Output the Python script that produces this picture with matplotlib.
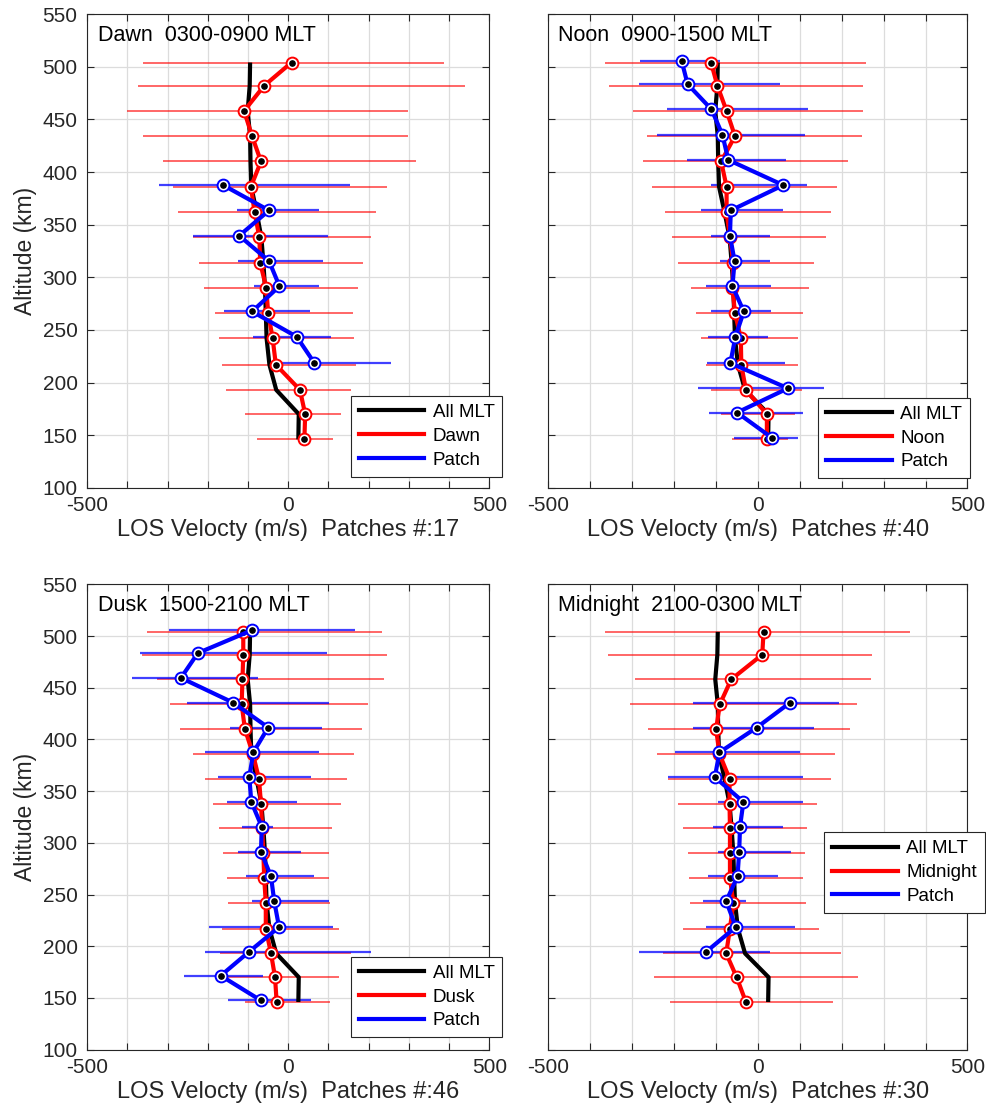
import matplotlib
matplotlib.use('Agg')
import matplotlib.pyplot as plt
from matplotlib.lines import Line2D
from matplotlib.ticker import FixedLocator

plt.rcParams['font.family'] = ['Liberation Sans', 'DejaVu Sans']

# ---------------- data ----------------
alt = [146, 170, 193, 217, 242, 266, 290, 314, 338, 362, 386, 410, 434, 458, 482, 504]
all_mlt = [25, 26, -30, -47, -54, -56, -58, -62, -67, -79, -92, -94, -95, -101, -96, -95]

# Dawn
dawn_v = [40, 42, 29, -31, -39, -50, -55, -70, -72, -84, -93, -68, -90, -110, -60, 8]
dawn_lo = [-79, -108, -156, -164, -173, -182, -209, -221, -236, -274, -288, -312, -362, -402, -373, -361]
dawn_hi = [110, 131, 156, 168, 164, 162, 174, 187, 206, 217, 245, 318, 298, 298, 440, 387]
dawn_p_alt = [218.5, 243.5, 267.5, 291.5, 315.5, 339.5, 363.5, 387.5]
dawn_p_v = [65, 21, -90, -22, -48, -122, -48, -162]
dawn_p_lo = [-40, -87, -159, -85, -126, -236, -128, -322]
dawn_p_hi = [255, 105, 54, 76, 87, 100, 77, 154]

# Noon
noon_v = [22, 22, -28, -39, -40, -54, -60, -58, -66, -74, -74, -87, -54, -74, -96, -111]
noon_lo = [-62, -87, -112, -124, -134, -146, -158, -189, -203, -221, -251, -274, -263, -298, -354, -364]
noon_hi = [73, 89, 105, 97, 97, 107, 123, 135, 163, 175, 189, 215, 248, 251, 251, 259]
noon_p_alt = [147.5, 171.5, 194.5, 218.5, 243.5, 267.5, 291.5, 315.5, 339.5, 363.5, 387.5, 411.5, 435.5, 459.5, 483.5, 505.5]
noon_p_v = [34, -49, 72, -65, -53, -33, -60, -55, -66, -64, 61, -70, -84, -110, -167, -181]
noon_p_lo = [-57, -116, -143, -121, -118, -112, -123, -90, -110, -134, -110, -168, -241, -217, -283, -281]
noon_p_hi = [96, 107, 158, 64, 25, 32, 32, 30, 30, 61, 117, 67, 113, 119, 54, -90]

# Dusk
dusk_v = [-29, -33, -43, -56, -56, -60, -62, -65, -68, -73, -88, -108, -116, -114, -112, -112]
dusk_lo = [-108, -180, -170, -164, -150, -152, -162, -172, -187, -207, -238, -269, -294, -327, -365, -351]
dusk_hi = [104, 127, 155, 126, 104, 102, 102, 108, 131, 145, 164, 183, 198, 239, 246, 234]
dusk_p_alt = [147.5, 171.5, 194.5, 218.5, 243.5, 267.5, 291.5, 315.5, 339.5, 363.5, 387.5, 411.5, 435.5, 459.5, 483.5, 505.5]
dusk_p_v = [-68, -168, -98, -23, -35, -43, -68, -66, -92, -97, -87, -50, -137, -267, -225, -91]
dusk_p_lo = [-149, -260, -207, -197, -90, -104, -126, -116, -153, -176, -207, -145, -253, -388, -369, -297]
dusk_p_hi = [56, -64, 206, 110, 101, 64, 31, -37, 21, 56, 77, 85, 102, -75, 96, 166]

# Midnight
mid_v = [-28, -50, -75, -66, -58, -66, -66, -66, -67, -67, -91, -99, -90, -63, 11, 14]
mid_lo = [-209, -246, -225, -179, -161, -164, -167, -177, -189, -213, -239, -262, -303, -293, -356, -364]
mid_hi = [179, 238, 198, 145, 115, 107, 113, 117, 142, 174, 185, 219, 236, 270, 272, 364]
mid_p_alt = [194.5, 218.5, 243.5, 267.5, 291.5, 315.5, 339.5, 363.5, 387.5, 411.5, 435.5]
mid_p_v = [-123, -52, -75, -48, -44, -42, -34, -102, -91, -2, 77]
mid_p_lo = [-283, -124, -130, -119, -95, -107, -94, -213, -197, -155, -155]
mid_p_hi = [30, 89, -28, 49, 79, 60, 109, 107, 101, 135, 193]

titles = ['Dawn  0300-0900 MLT', 'Noon  0900-1500 MLT',
          'Dusk  1500-2100 MLT', 'Midnight  2100-0300 MLT']
sector_names = ['Dawn', 'Noon', 'Dusk', 'Midnight']
patch_counts = [17, 40, 46, 30]
xtick_vals = [-500, -400, -300, -200, -100, 0, 100, 200, 300, 400, 500]
xtick_labels = ['-500', '', '', '', '', '0', '', '', '', '', '500']
ytick_vals = [100, 150, 200, 250, 300, 350, 400, 450, 500, 550]

sectors = [
    (dawn_v, dawn_lo, dawn_hi, dawn_p_alt, dawn_p_v, dawn_p_lo, dawn_p_hi),
    (noon_v, noon_lo, noon_hi, noon_p_alt, noon_p_v, noon_p_lo, noon_p_hi),
    (dusk_v, dusk_lo, dusk_hi, dusk_p_alt, dusk_p_v, dusk_p_lo, dusk_p_hi),
    (mid_v, mid_lo, mid_hi, mid_p_alt, mid_p_v, mid_p_lo, mid_p_hi),
]

# ---------------- layout ----------------
W, H = 987, 1116
fig = plt.figure(figsize=(W / 100, H / 100), dpi=100)
col_x = [(87.3, 489.3), (547.8, 967.5)]
row_y = [(14.1, 487.8), (584.3, 1049.6)]
legend_pos = [(350.7, 396.0), (818.3, 397.7), (350.7, 956.7), (824.3, 832.3)]

DARK = '#262626'
for i in range(4):
    r, c = divmod(i, 2)
    x0, x1 = col_x[c]
    y0, y1 = row_y[r]
    ax = fig.add_axes([x0 / W, 1 - y1 / H, (x1 - x0) / W, (y1 - y0) / H])
    v, lo, hi, palt, pv, plo, phi = sectors[i]

    ax.hlines(alt, lo, hi, colors='red', linewidth=1.4, alpha=0.6, zorder=2)
    ax.hlines(palt, plo, phi, colors='blue', linewidth=1.6, alpha=0.75, zorder=2.1)
    ax.plot(all_mlt, alt, color='black', lw=3.0, zorder=3, solid_capstyle='butt')
    ax.plot(v, alt, color='red', lw=3.0, marker='o', ms=8.5, mfc='white', mec='red',
            mew=1.4, zorder=4)
    ax.plot(v, alt, ls='none', marker='o', ms=3.8, color='black', zorder=4.1)
    ax.plot(pv, palt, color='blue', lw=3.0, marker='o', ms=8.5, mfc='white', mec='blue',
            mew=1.4, zorder=5)
    ax.plot(pv, palt, ls='none', marker='o', ms=3.8, color='black', zorder=5.1)

    ax.set_xlim(-500, 500)
    ax.set_ylim(100, 550)
    ax.xaxis.set_major_locator(FixedLocator(xtick_vals))
    ax.set_xticklabels(xtick_labels)
    ax.yaxis.set_major_locator(FixedLocator(ytick_vals))
    ax.grid(True, color='#dcdcdc', lw=0.9)
    ax.set_axisbelow(True)
    ax.tick_params(direction='in', length=5, width=0.8, colors=DARK, labelsize=15,
                   top=True, right=True)
    ax.tick_params(axis='x', pad=6)
    ax.tick_params(axis='y', pad=7)
    for s in ax.spines.values():
        s.set_color(DARK)
        s.set_linewidth(0.8)
    if c == 1:
        ax.tick_params(labelleft=False)
    else:
        ax.set_ylabel('Altitude (km)', fontsize=16.5, color=DARK, labelpad=4)
    ax.set_xlabel('LOS Velocty (m/s)  Patches #:%d' % patch_counts[i], fontsize=17,
                  color=DARK, labelpad=3)
    ax.annotate(titles[i], xy=(0, 1), xycoords='axes fraction', xytext=(7.5, -7.5),
                textcoords='offset points', ha='left', va='top', fontsize=15.5,
                color='black', zorder=10)

    handles = [Line2D([], [], color='black', lw=3),
               Line2D([], [], color='red', lw=3),
               Line2D([], [], color='blue', lw=3)]
    lx, ly = legend_pos[i]
    leg = ax.legend(handles, ['All MLT', sector_names[i], 'Patch'],
                    loc='upper left', bbox_to_anchor=(lx / W, 1 - ly / H),
                    bbox_transform=fig.transFigure, borderaxespad=0,
                    fontsize=13.5, handlelength=3.5, handletextpad=0.45,
                    labelspacing=0.36, borderpad=0.42, fancybox=False,
                    framealpha=1, edgecolor=DARK)
    leg.get_frame().set_linewidth(0.8)
    leg.set_zorder(20)

fig.savefig('out.png', dpi=100)
